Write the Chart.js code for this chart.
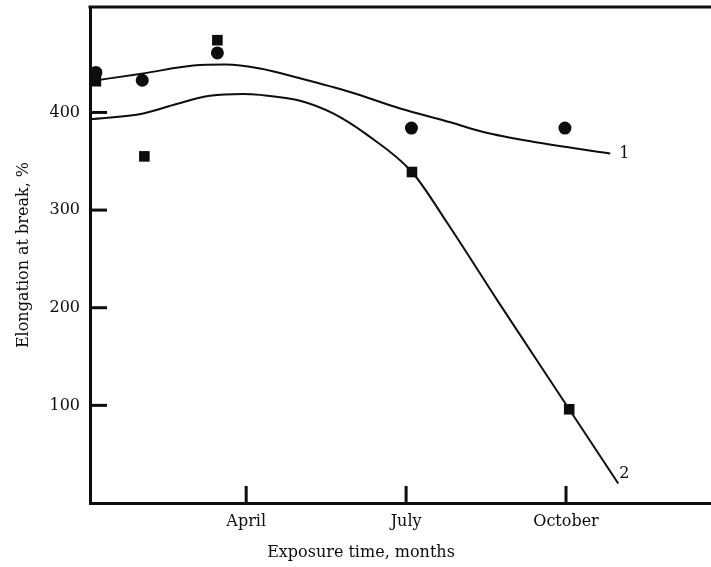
<!DOCTYPE html>
<html>
<head>
<meta charset="utf-8">
<script src="https://cdn.jsdelivr.net/npm/chart.js@4.4.1/dist/chart.umd.min.js"></script>
<style>
  html, body { margin: 0; padding: 0; background: #fff; }
  #wrap { width: 711px; height: 567px; }
</style>
</head>
<body>
<div id="wrap"><canvas id="chart" width="711" height="567"></canvas></div>
<script>
// x is months from the start of January (April = 3, July = 6, October = 9)
const monthTicks = [3, 6, 9];
const monthLabels = ["April", "July", "October"];
const yTicks = [100, 200, 300, 400];

// measured points, sample 1 (circles) and sample 2 (squares)
const circleX = [0.18, 1.05, 2.46, 6.10, 8.98];
const circleY = [441, 433, 461, 384, 384];
const squareX = [0.18, 1.09, 2.46, 6.11, 9.06];
const squareY = [432, 355, 474, 339, 96];

// fitted curves
const curve1X = [0.07, 1.07, 2.01, 2.61, 3.26, 4.01, 4.95, 5.89, 6.83, 7.45, 8.38, 9.83];
const curve1Y = [432, 440, 448, 449, 445, 435, 421, 404, 390, 380, 370, 358];
const curve2X = [0.07, 1.07, 1.71, 2.32, 2.94, 3.26, 4.01, 4.63, 5.27, 6.11, 6.77, 7.73, 9.06, 9.98];
const curve2Y = [393, 399, 409, 417, 419, 418, 412, 399, 377, 339, 287, 206, 96, 20];

const ink = "#0d0d0d";
const serif = "'DejaVu Serif', 'Liberation Serif', serif";

const pts = (xs, ys) => xs.map((x, i) => ({x: x, y: ys[i]}));

// inward ticks, the top frame line, curve numbers and the x title
const decor = {
  id: "decor",
  afterDraw(chart) {
    const ctx = chart.ctx;
    const a = chart.chartArea;
    const xs = chart.scales.x, ys = chart.scales.y;
    ctx.save();
    ctx.strokeStyle = ink;
    ctx.lineWidth = 3;
    ctx.beginPath();
    ctx.moveTo(a.left - 1.5, a.top);
    ctx.lineTo(chart.width, a.top);
    ctx.stroke();
    ys.ticks.forEach(t => {
      const y = ys.getPixelForValue(t.value);
      ctx.beginPath();
      ctx.moveTo(a.left, y);
      ctx.lineTo(a.left + 17, y);
      ctx.stroke();
    });
    xs.ticks.forEach(t => {
      const x = xs.getPixelForValue(t.value);
      ctx.beginPath();
      ctx.moveTo(x, a.bottom);
      ctx.lineTo(x, a.bottom - 17);
      ctx.stroke();
    });
    ctx.fillStyle = ink;
    ctx.font = "16px " + serif;
    ctx.textBaseline = "middle";
    ctx.textAlign = "left";
    const m1 = chart.getDatasetMeta(2).data;
    const e1 = m1[m1.length - 1];
    ctx.fillText("1", e1.x + 9, e1.y);
    const m2 = chart.getDatasetMeta(3).data;
    const e2 = m2[m2.length - 1];
    ctx.fillText("2", e2.x + 1, e2.y - 10);
    ctx.textAlign = "center";
    ctx.fillText("Exposure time, months", 361, 553);
    ctx.restore();
  }
};

new Chart(document.getElementById("chart"), {
  type: "scatter",
  data: {
    datasets: [
      {
        label: "1",
        data: pts(circleX, circleY),
        pointStyle: "circle",
        pointRadius: 6.5,
        pointBorderWidth: 0,
        backgroundColor: ink,
        borderColor: ink
      },
      {
        label: "2",
        data: pts(squareX, squareY),
        pointStyle: "rect",
        pointRadius: 7.5,
        pointBorderWidth: 0,
        backgroundColor: ink,
        borderColor: ink
      },
      {
        type: "line",
        label: "curve 1",
        data: pts(curve1X, curve1Y),
        showLine: true,
        pointRadius: 0,
        borderColor: ink,
        borderWidth: 2,
        cubicInterpolationMode: "monotone",
        fill: false
      },
      {
        type: "line",
        label: "curve 2",
        data: pts(curve2X, curve2Y),
        showLine: true,
        pointRadius: 0,
        borderColor: ink,
        borderWidth: 2,
        cubicInterpolationMode: "monotone",
        fill: false
      }
    ]
  },
  options: {
    responsive: false,
    animation: false,
    events: [],
    layout: { autoPadding: false, padding: { top: 7, right: 0, left: 0, bottom: 0 } },
    plugins: { legend: { display: false }, tooltip: { enabled: false } },
    scales: {
      x: {
        type: "linear",
        min: 0.07,
        max: 11.72,
        afterFit: s => { s.height = 64; s.paddingLeft = 0; s.paddingRight = 0; },
        afterBuildTicks: s => { s.ticks = monthTicks.map(v => ({value: v})); },
        grid: { display: false, drawTicks: false },
        border: { display: true, color: ink, width: 3 },
        ticks: {
          color: ink,
          padding: 9,
          autoSkip: false,
          maxRotation: 0,
          font: { family: serif, size: 16 },
          callback: v => monthLabels[monthTicks.indexOf(v)]
        }
      },
      y: {
        min: 0,
        max: 508,
        afterFit: s => { s.width = 90; s.paddingTop = 0; s.paddingBottom = 0; },
        afterBuildTicks: s => { s.ticks = yTicks.map(v => ({value: v})); },
        grid: { display: false, drawTicks: false },
        border: { display: true, color: ink, width: 3 },
        ticks: {
          color: ink,
          padding: 10,
          font: { family: serif, size: 16 }
        },
        title: {
          display: true,
          text: "Elongation at break, %",
          color: ink,
          padding: { top: 14, bottom: 0 },
          font: { family: serif, size: 16 }
        }
      }
    }
  },
  plugins: [decor]
});
</script>
</body>
</html>
